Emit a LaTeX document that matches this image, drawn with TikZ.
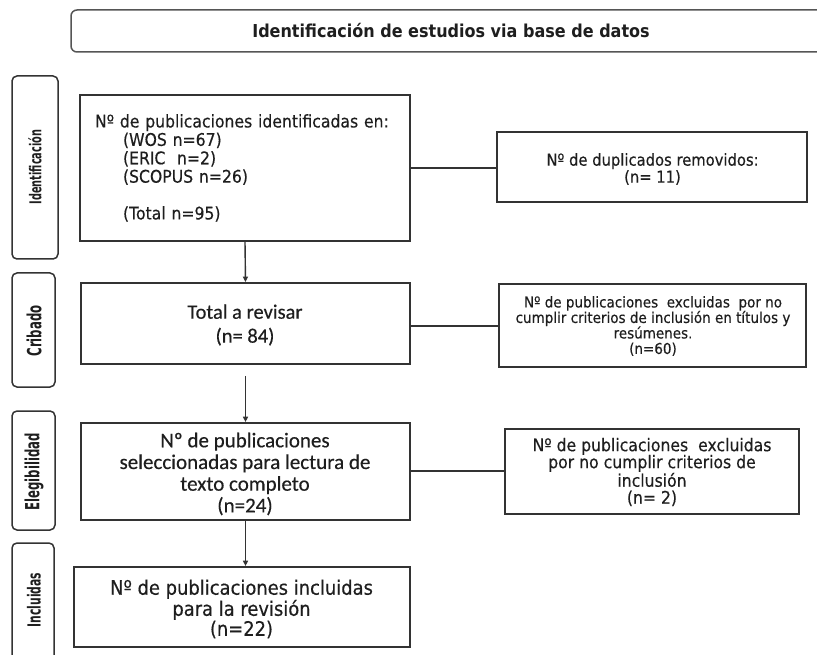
\documentclass[tikz,border=0pt]{standalone}
\usepackage{fontspec}
\setmainfont{DejaVu Sans}
\newfontfamily\tahf[FakeStretch=0.9,FakeBold=0.4]{DejaVu Sans}
\newfontfamily\cndf[FakeStretch=0.6]{DejaVu Sans Bold}
\newfontfamily\titf[FakeStretch=0.9]{DejaVu Sans Bold}
\newfontfamily\calf[FakeBold=0.4]{Carlito}
\usetikzlibrary{arrows.meta}
\newcommand\fsz[2]{\fontsize{#1}{#2}\selectfont}
\definecolor{bordc}{HTML}{333333}
\definecolor{titc}{HTML}{555555}
\definecolor{txtc}{HTML}{1E1E1E}
\tikzset{
  mainbox/.style={draw=bordc, line width=1.8pt, inner sep=0pt, text=txtc, align=center},
  sidebox/.style={draw=bordc, line width=1.8pt, inner sep=0pt, text=txtc, align=center},
  stagebox/.style={draw=bordc, line width=1.5pt, rounded corners=5pt, inner sep=0pt},
  stagetext/.style={rotate=90, text=txtc, inner sep=0pt},
  conn/.style={draw=bordc, line width=1.5pt},
  arr/.style={draw=bordc, line width=1.4pt, -{Triangle[length=5.5pt,width=5pt]}}
}
\begin{document}
\begin{tikzpicture}[x=1pt,y=-1pt]
\useasboundingbox (0,0) rectangle (817,655);
% title
\node[draw=titc, line width=1.5pt, rounded corners=6pt, minimum width=769pt, minimum height=42pt, inner sep=0pt] (titlebox) at (455.5,31) {};
\node[text=txtc, inner sep=0pt, font=\titf\fsz{17.8}{20}] (titletext) at (451,31) {Identificación de estudios via base de datos};
% stage boxes
\node[stagebox, minimum width=46pt, minimum height=183pt] (s1) at (35,167.5) {};
\node[stagetext, font=\cndf\fsz{16.3}{18}] (s1t) at (35,167) {Identificación};
\node[stagebox, minimum width=43pt, minimum height=114pt] (s2) at (33.5,330) {};
\node[stagetext, font=\cndf\fsz{19.5}{21}] (s2t) at (34,331) {Cribado};
\node[stagebox, minimum width=43pt, minimum height=119pt] (s3) at (33.5,470.5) {};
\node[stagetext, font=\cndf\fsz{19.5}{21}] (s3t) at (34,472) {Elegibilidad};
\node[stagebox, minimum width=42pt, minimum height=118pt] (s4) at (33,602) {};
\node[stagetext, font=\cndf\fsz{18}{20}] (s4t) at (34,600) {Incluidas};
% main boxes
\node[mainbox, align=left, text width=300pt, inner xsep=15pt, minimum height=146pt, font=\tahf\fsz{17.4}{18.4}] (b1) at (245,168) {Nº de publicaciones identificadas en:\\
\hspace*{28pt}(WOS n=67)\\
\hspace*{28pt}(ERIC\ \ n=2)\\
\hspace*{28pt}(SCOPUS n=26)\\[18.4pt]
\hspace*{28pt}(Total n=95)};
\node[mainbox, minimum width=329pt, minimum height=81pt] (b2) at (245.5,323.5) {};
\node[text=txtc, align=center, inner sep=0pt, font=\calf\fsz{20.5}{24}] (b2t) at (245,325) {Total a revisar\\(n= 84)};
\node[mainbox, minimum width=329pt, minimum height=97pt] (b3) at (245.5,471.5) {};
\node[text=txtc, align=center, inner sep=0pt, font=\calf\fsz{21}{21.7}] (b3t) at (245,474) {Nº de publicaciones\\seleccionadas para lectura de\\texto completo\\(n=24)};
\node[mainbox, minimum width=336pt, minimum height=80pt] (b4) at (242,607) {};
\node[text=txtc, align=center, inner sep=0pt, font=\tahf\fsz{19.9}{20}] (b4t) at (241.5,609) {Nº de publicaciones incluidas\\para la revisión\\(n=22)};
% side boxes
\node[sidebox, minimum width=310pt, minimum height=70pt] (r1) at (652,167) {};
\node[text=txtc, align=center, inner sep=0pt, font=\tahf\fsz{16.4}{17}] (r1t) at (652.5,169) {Nº de duplicados removidos:\\(n= 11)};
\node[sidebox, minimum width=307pt, minimum height=83pt] (r2) at (652.5,325.5) {};
\node[text=txtc, align=center, inner sep=0pt, font=\tahf\fsz{15}{15.5}] (r2t) at (653,326) {Nº de publicaciones\ \ excluidas\ \ por no\\cumplir criterios de inclusión en títulos y\\resúmenes.\\(n=60)};
\node[sidebox, minimum width=294pt, minimum height=85pt] (r3) at (652,471.5) {};
\node[text=txtc, align=center, inner sep=0pt, font=\tahf\fsz{17.4}{17}] (r3t) at (652,472) {Nº de publicaciones\ \ excluidas\\por no cumplir criterios de\\inclusión\\(n= 2)};
% connectors
\draw[conn] (b1.east |- 0,168) -- (r1.west |- 0,168);
\draw[conn] (b2.east |- 0,326) -- (r2.west |- 0,326);
\draw[conn] (b3.east |- 0,471) -- (r3.west |- 0,471);
% arrows
\draw[arr] (b1.south) -- (b2.north);
\draw[arr] ([yshift=-11pt]b2.south) -- (b3.north);
\draw[arr] (b3.south) -- (b3.south |- b4.north);
\end{tikzpicture}
\end{document}
